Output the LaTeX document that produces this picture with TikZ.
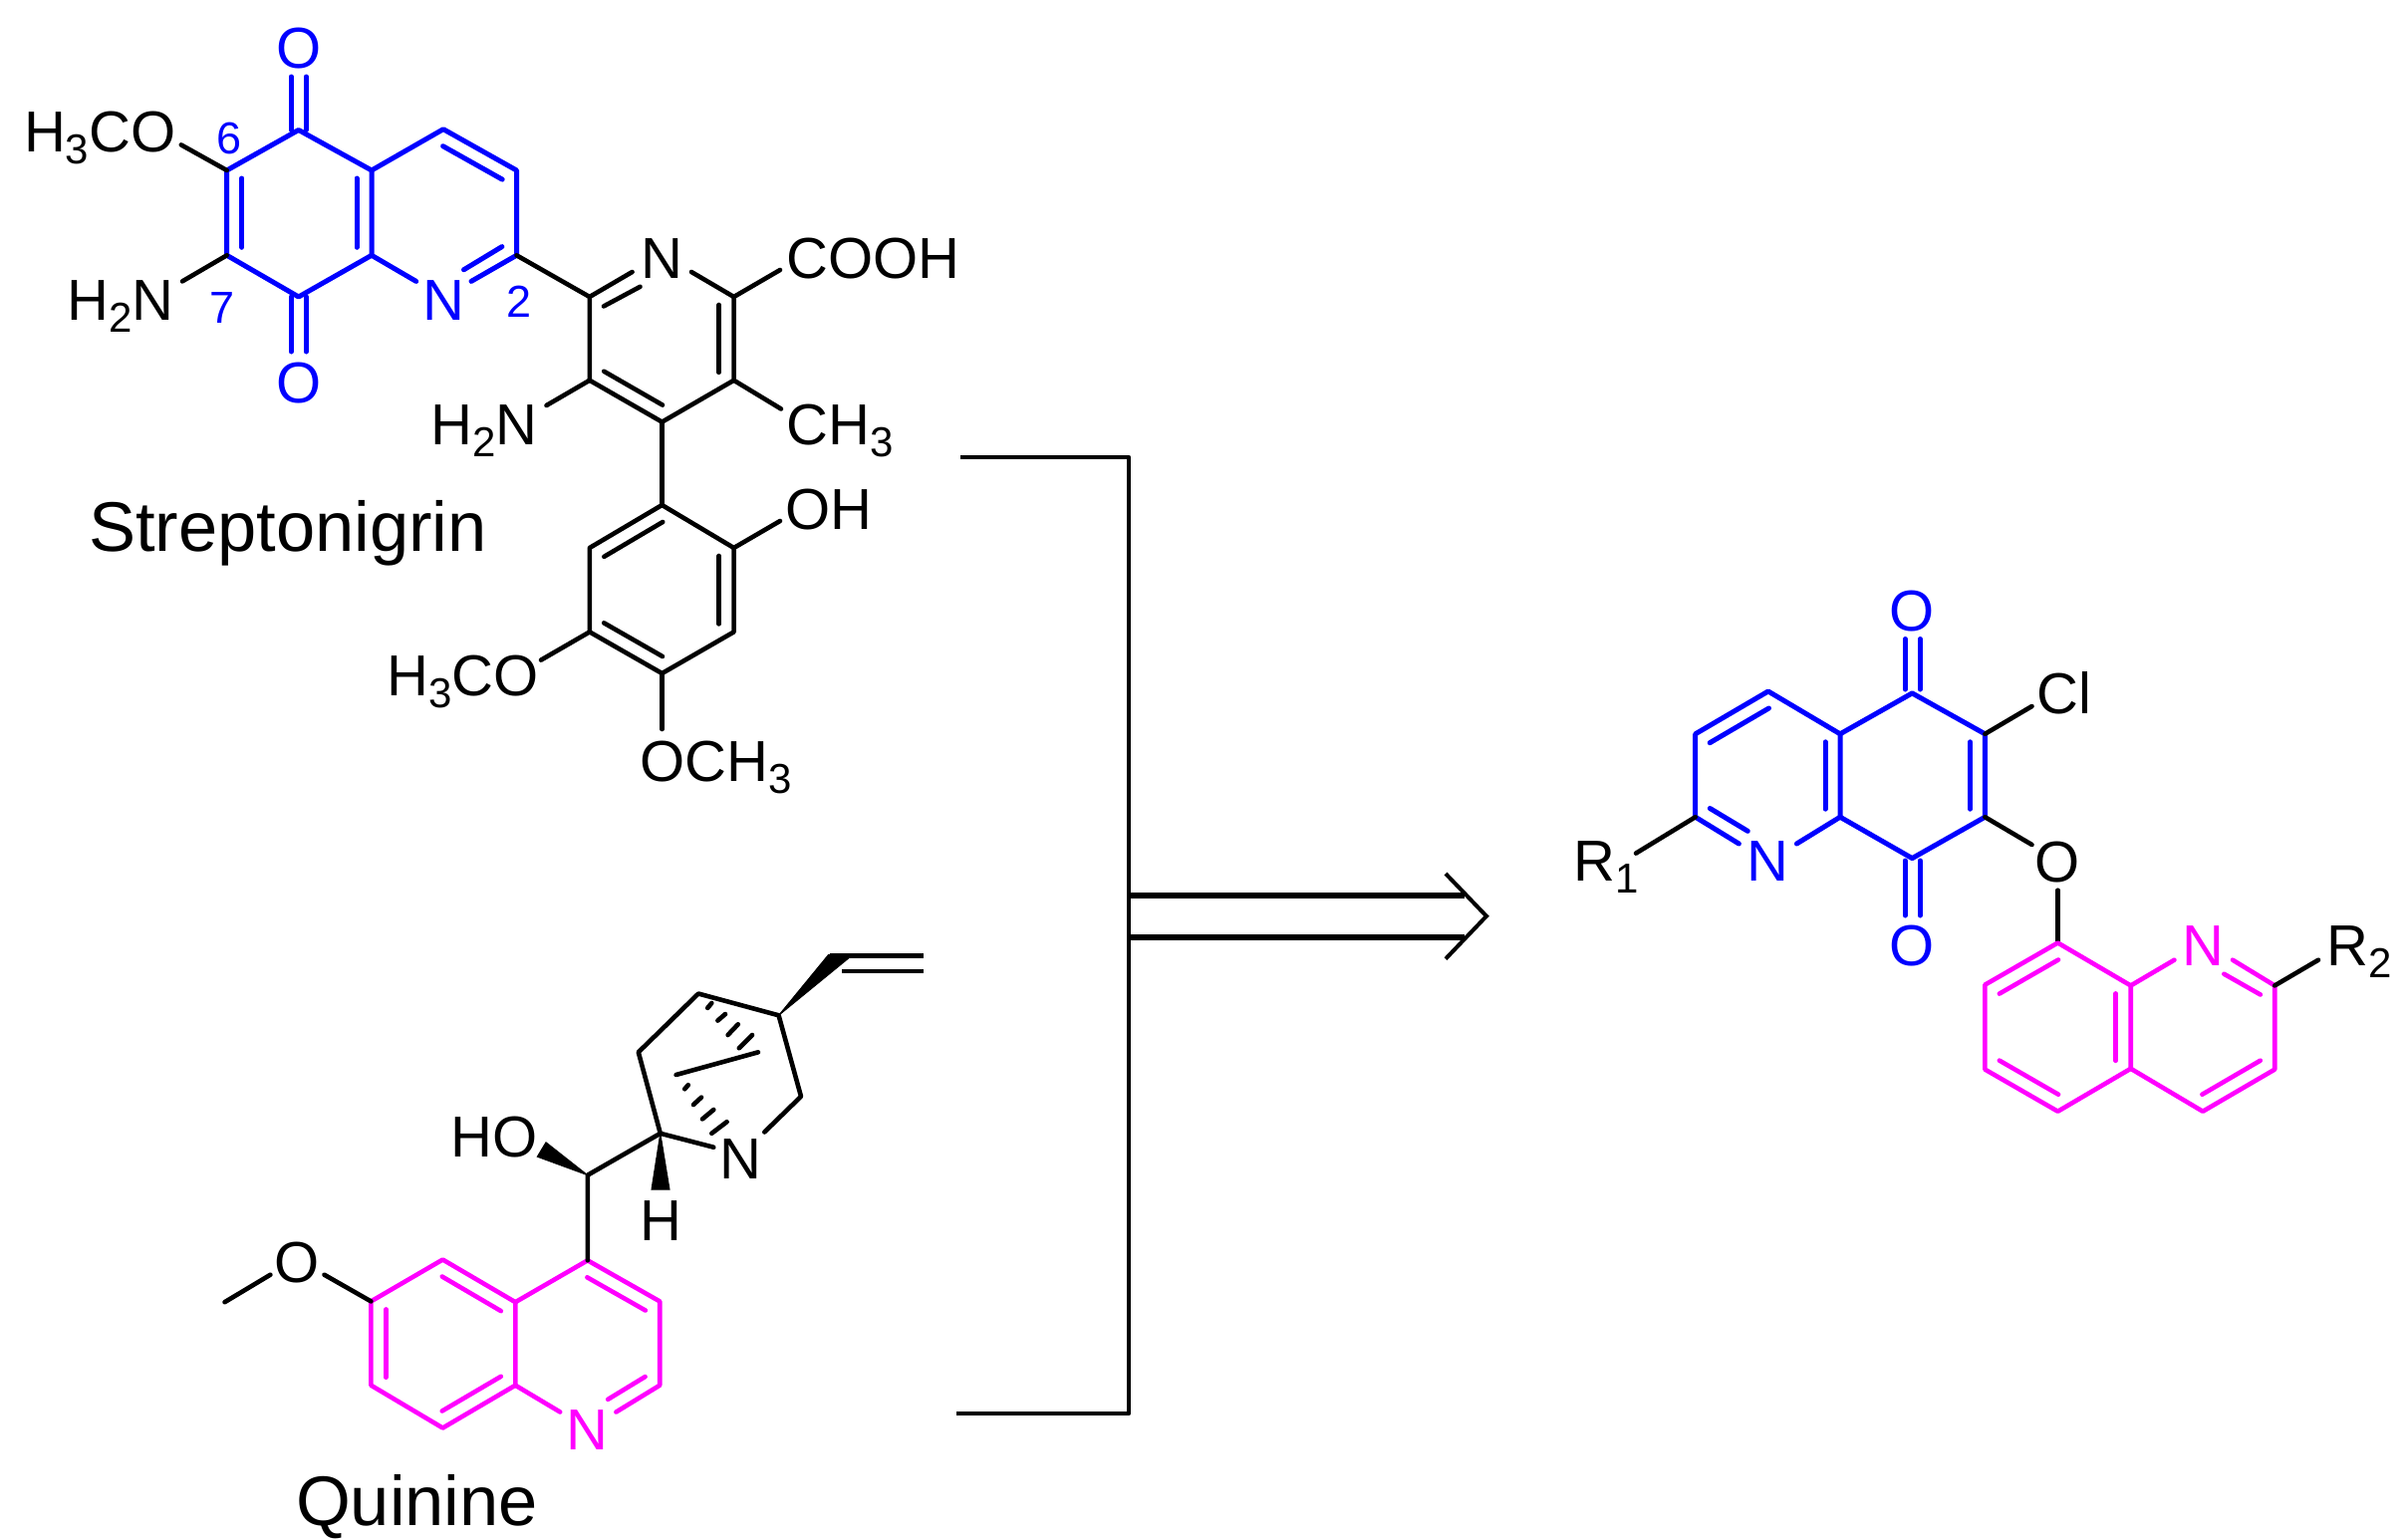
\documentclass[tikz,border=0pt]{standalone}
\usepackage{fontspec}
\setmainfont{Liberation Sans}
\usetikzlibrary{calc}
\definecolor{chemblue}{RGB}{0,0,255}
\definecolor{chemmag}{RGB}{255,0,255}
\newcommand{\sbs}[1]{\raisebox{-12pt}{\fontsize{42}{42}\selectfont #1}}
% inner line of a double bond: lies to the right of travel a->b
\newcommand{\dblin}[5][15pt]{\draw[#2] ($(#3)!#4pt!(#5)!#1!-90:(#5)$) -- ($(#5)!#4pt!(#3)!#1!90:(#3)$);}
\newcommand{\dblinb}[6][15pt]{\draw[#2] ($(#3)!#5pt!(#4)!#1!-90:(#4)$) -- ($(#4)!#6pt!(#3)!#1!90:(#3)$);}
\tikzset{
  x=1pt,y=-1pt,
  bond/.style={line width=4.6pt,line cap=round,line join=round,black},
  bluebond/.style={bond,chemblue,line width=5pt},
  magbond/.style={bond,chemmag,line width=4.6pt},
  heavy/.style={line width=6pt,line cap=butt,black},
  wedge/.style={fill=black,draw=black,line width=1pt,line join=miter},
  atom/.style={inner sep=0pt,outer sep=0pt,font=\fontsize{58}{62}\selectfont,anchor=base,text=black,yshift=-0.7pt},
  atomw/.style={atom,anchor=base west,xshift=-1.5pt},
  batom/.style={atom,text=chemblue},
  matom/.style={atom,text=chemmag},
  numlab/.style={inner sep=0pt,outer sep=0pt,font=\fontsize{45}{48}\selectfont,text=chemblue,anchor=center},
  title/.style={inner sep=0pt,outer sep=0pt,font=\fontsize{70.5}{74}\selectfont,anchor=base west,text=black},
}
\begin{document}
\begin{tikzpicture}
\useasboundingbox (0,0) rectangle (2417,1545);
\fill[white] (0,0) rectangle (2417,1545);

% ---------- Streptonigrin ----------
\coordinate (c5) at (299.7,130.5);
\coordinate (c6) at (227.7,171);
\coordinate (c7) at (227.7,256.3);
\coordinate (c8) at (299.7,298);
\coordinate (c8a) at (373,256.3);
\coordinate (c4a) at (373,171);
\coordinate (c4) at (445,129.7);
\coordinate (c3) at (518.5,171);
\coordinate (c2) at (518.5,256.3);
\coordinate (cN) at (445,300.7);
\coordinate (o5a) at (292.4,77);
\coordinate (o5b) at (292.4,130.5);
\coordinate (o5c) at (307.4,77);
\coordinate (o5d) at (307.4,130.5);
\coordinate (o8a) at (292.4,298);
\coordinate (o8b) at (292.4,353);
\coordinate (o8c) at (307.4,298);
\coordinate (o8d) at (307.4,353);
\coordinate (cNl) at (417.7,282.4);
\coordinate (cNr) at (473,282.4);

\node[batom] (O5) at (299.7,68) {O};
\node[batom] (O8) at (299.7,404) {O};
\node[batom] (Nq) at (445,320.7) {N};
\node[numlab] (l6) at (229.6,138.6) {6};
\node[numlab] (l7) at (223,308.6) {7};
\node[numlab] (l2) at (521,303) {2};

\draw[bluebond] (c8a) -- (c4a) -- (c5) -- (c6) -- (c7) -- (c8) -- (c8a) -- (cNl);
\draw[bluebond] (c4a) -- (c4) -- (c3) -- (c2) -- (cNr);
\draw[bluebond] (o5a) -- (o5b) (o5c) -- (o5d) (o8a) -- (o8b) (o8c) -- (o8d);
\dblin{bluebond}{c7}{8}{c6}
\dblin{bluebond}{c4a}{8}{c8a}
\dblin{bluebond}{c4}{8}{c3}
\dblinb{bluebond}{c2}{cN}{8}{33}

\coordinate (p2) at (591.8,298);
\coordinate (pN) at (664.5,259);
\coordinate (p6) at (736.6,298);
\coordinate (p5) at (736.6,381.8);
\coordinate (p4) at (664.5,423.6);
\coordinate (p3) at (591.8,381.8);
\coordinate (pNl) at (634.6,273);
\coordinate (pNr) at (694,273);
\coordinate (eCOOH) at (783,271);
\coordinate (eCH3) at (784,410.5);
\coordinate (eNH2) at (548.5,407);
\coordinate (eH3CO) at (181.8,145.4);
\coordinate (eH2N) at (183,282.4);

\node[atom] (Np) at (664.5,279) {N};
\node[atomw] (COOH) at (791,279) {COOH};
\node[atomw] (CH3) at (791,446) {CH\sbs{3}};
\node[atomw] (H2Nb) at (434,446) {H\sbs{2}N};
\node[atomw] (H3COa) at (25.5,152) {H\sbs{3}CO};
\node[atomw] (H2Na) at (69,320.7) {H\sbs{2}N};
\node[title] (strep) at (89,553.5) {Streptonigrin};

\draw[bond] (c2) -- (p2);
\draw[bond] (pNl) -- (p2) -- (p3) -- (p4) -- (p5) -- (p6) -- (pNr);
\dblinb{bond}{p2}{pN}{8}{33}
\dblin{bond}{p6}{8}{p5}
\dblin{bond}{p4}{8}{p3}
\draw[bond] (p6) -- (eCOOH);
\draw[bond] (p5) -- (eCH3);
\draw[bond] (p3) -- (eNH2);
\draw[bond] (c6) -- (eH3CO);
\draw[bond] (c7) -- (eH2N);

\coordinate (a1) at (664.5,507);
\coordinate (a2) at (736.6,550);
\coordinate (a3) at (736.6,634.4);
\coordinate (a4) at (664.5,676);
\coordinate (a5) at (591.8,634.4);
\coordinate (a6) at (591.8,550);
\coordinate (eOH) at (783,523);
\coordinate (eH3COb) at (543,662.6);
\coordinate (eOCH3) at (664.5,732);

\node[atomw] (OH) at (789.5,531) {OH};
\node[atomw] (H3COb) at (390,698) {H\sbs{3}CO};
\node[atomw] (OCH3) at (644,783.6) {OCH\sbs{3}};

\draw[bond] (p4) -- (a1);
\draw[bond] (a1) -- (a2) -- (a3) -- (a4) -- (a5) -- (a6) -- cycle;
\dblin{bond}{a2}{8}{a3}
\dblin{bond}{a4}{8}{a5}
\dblin{bond}{a6}{8}{a1}
\draw[bond] (a2) -- (eOH);
\draw[bond] (a5) -- (eH3COb);
\draw[bond] (a4) -- (eOCH3);

% ---------- Quinine ----------
\coordinate (q4) at (589.8,1265.3);
\coordinate (q4a) at (517.3,1307.2);
\coordinate (q8a) at (517.3,1390.7);
\coordinate (qN) at (589.8,1434.8);
\coordinate (q2) at (662.2,1390.7);
\coordinate (q3) at (662.2,1306.4);
\coordinate (q5) at (444.4,1264.5);
\coordinate (q6) at (372.4,1306.4);
\coordinate (q7) at (372.4,1390.7);
\coordinate (q8) at (444.4,1433.5);
\coordinate (qNl) at (562.2,1417.5);
\coordinate (qNr) at (618.4,1417.5);

\node[matom] (Nquin) at (589.8,1454.8) {N};
\node[atom] (Oq) at (298,1287) {O};
\node[atomw] (HO) at (454,1160.6) {HO};
\node[atom] (Hq) at (663.3,1245) {H};
\node[atom] (Nb) at (743.9,1182.4) {N};
\node[title] (quin) at (297,1531) {Quinine};

\draw[magbond] (q4a) -- (q4) -- (q3) -- (q2) -- (qNr);
\draw[magbond] (q4a) -- (q8a) -- (qNl);
\draw[magbond] (q4a) -- (q5) -- (q6) -- (q7) -- (q8) -- (q8a);
\dblin{magbond}{q4}{8}{q3}
\dblinb{magbond}{q2}{qN}{8}{33}
\dblin{magbond}{q5}{8}{q4a}
\dblin{magbond}{q8a}{8}{q8}
\dblin{magbond}{q7}{8}{q6}

\coordinate (oR) at (325.5,1279.7);
\coordinate (oL) at (271.4,1279.7);
\coordinate (me) at (225.5,1307.2);
\draw[bond] (q6) -- (oR);
\draw[bond] (oL) -- (me);

\coordinate (ca) at (589.8,1179.7);
\coordinate (c9) at (662.8,1137.8);
\coordinate (hoA) at (548,1146.8);
\coordinate (hoB) at (539.3,1161.2);
\coordinate (hA) at (654,1194);
\coordinate (hB) at (672,1194);
\coordinate (nL) at (716.3,1151.7);
\coordinate (nR) at (767.3,1136.5);
\coordinate (k1) at (804,1100.7);
\coordinate (k2) at (781.6,1019.3);
\coordinate (k3) at (701,997.5);
\coordinate (k4) at (640.8,1056.3);
\coordinate (br1) at (761,1056.3);
\coordinate (br2) at (678.6,1079);
\coordinate (vA) at (831.6,958.4);
\coordinate (vB) at (853,960.9);
\coordinate (v1a) at (832.7,959.6);
\coordinate (v1b) at (926.5,959.6);
\coordinate (v2a) at (845.4,974.9);
\coordinate (v2b) at (926.5,974.9);

\draw[bond] (q4) -- (ca) -- (c9);
\fill[wedge] (ca) -- (hoA) -- (hoB) -- cycle;
\fill[wedge] (c9) -- (hA) -- (hB) -- cycle;
\draw[bond] (c9) -- (nL);
\draw[bond] (nR) -- (k1) -- (k2) -- (k3) -- (k4) -- (c9);
\draw[bond] (br1) -- (br2);
\fill[wedge] (k2) -- (vA) -- (vB) -- cycle;
\draw[bond,line cap=butt] (v1a) -- (v1b);
\draw[bond,line cap=butt] (v2a) -- (v2b);

\coordinate (h1a) at (710.2,1011.9); \coordinate (h1b) at (714.3,1007);
\coordinate (h2a) at (720.4,1024.6); \coordinate (h2b) at (728,1018);
\coordinate (h3a) at (730.6,1039); \coordinate (h3b) at (740.8,1028.3);
\coordinate (h4a) at (741.8,1052.2); \coordinate (h4b) at (755,1039);
\coordinate (h5a) at (687.2,1093.3); \coordinate (h5b) at (690.8,1089.2);
\coordinate (h6a) at (696,1109); \coordinate (h6b) at (704,1101.6);
\coordinate (h7a) at (705,1123.4); \coordinate (h7b) at (716.3,1114);
\coordinate (h8a) at (714.3,1137.8); \coordinate (h8b) at (729.6,1126.2);
\draw[bond] (h1a) -- (h1b) (h2a) -- (h2b) (h3a) -- (h3b) (h4a) -- (h4b)
            (h5a) -- (h5b) (h6a) -- (h6b) (h7a) -- (h7b) (h8a) -- (h8b);

% ---------- Bracket and arrow ----------
\coordinate (bt) at (964,459);
\coordinate (bb) at (960,1419);
\coordinate (bvt) at (1133,459);
\coordinate (bvb) at (1133,1419);
\coordinate (as1) at (1133,898.7);
\coordinate (as2) at (1133,940.8);
\coordinate (ae1) at (1470,898.7);
\coordinate (ae2) at (1470,940.8);
\coordinate (at) at (1492,919.7);
\coordinate (ah1) at (1451,877);
\coordinate (ah2) at (1451,962.6);
\draw[bond,line cap=butt] (bt) -- (bvt) -- (bvb) -- (bb);
\draw[heavy] (as1) -- (ae1);
\draw[heavy] (as2) -- (ae2);
\draw[line width=4pt,black,line join=miter] (ah1) -- (at) -- (ah2);

% ---------- Product ----------
\coordinate (ra) at (1774.8,694);
\coordinate (rb) at (1701.7,736.8);
\coordinate (rc) at (1701.7,820.2);
\coordinate (rN) at (1774.8,864.2);
\coordinate (rd) at (1847,820.2);
\coordinate (re) at (1847,736.8);
\coordinate (rf) at (1919.3,695.9);
\coordinate (rg) at (1992.4,736.8);
\coordinate (rh) at (1992.4,820.2);
\coordinate (ri) at (1919.3,861.6);
\coordinate (rNl) at (1745.4,847);
\coordinate (rNr) at (1803.4,847);
\coordinate (ot1) at (1912.2,641.5);
\coordinate (ot2) at (1912.2,692);
\coordinate (ot3) at (1927.2,641.5);
\coordinate (ot4) at (1927.2,692);
\coordinate (ob1) at (1912.2,864);
\coordinate (ob2) at (1912.2,919);
\coordinate (ob3) at (1927.2,864);
\coordinate (ob4) at (1927.2,919);
\coordinate (eR1) at (1642,856.6);
\coordinate (eCl) at (2039.5,709);
\coordinate (eOa) at (2039.5,848);
\coordinate (eOb) at (2065.5,893.7);

\node[batom] (Ot) at (1919.3,632.4) {O};
\node[batom] (Ob) at (1919.3,969.2) {O};
\node[batom] (Nr) at (1774.8,884.2) {N};
\node[atomw] (R1) at (1581,884) {R\sbs{1}};
\node[atomw] (Cl) at (2046,716) {Cl};
\node[atom] (Oe) at (2065.5,885) {O};

\draw[bluebond] (rNl) -- (rc) -- (rb) -- (ra) -- (re) -- (rd) -- (rNr);
\draw[bluebond] (re) -- (rf) -- (rg) -- (rh) -- (ri) -- (rd);
\draw[bluebond] (ot1) -- (ot2) (ot3) -- (ot4) (ob1) -- (ob2) (ob3) -- (ob4);
\dblin{bluebond}{rb}{8}{ra}
\dblin{bluebond}{re}{8}{rd}
\dblin{bluebond}{rg}{8}{rh}
\dblinb{bluebond}{rN}{rc}{33}{8}
\draw[bond] (rc) -- (eR1);
\draw[bond] (rg) -- (eCl);
\draw[bond] (rh) -- (eOa);

\coordinate (mj) at (2065.5,946.5);
\coordinate (mk) at (2138.7,989.4);
\coordinate (ml) at (2138.7,1072.8);
\coordinate (mm) at (2065.5,1115.7);
\coordinate (mn) at (1992.4,1073.6);
\coordinate (mo) at (1992.4,988.6);
\coordinate (mp) at (2211,1115.7);
\coordinate (mq) at (2283.2,1073.6);
\coordinate (mr) at (2283.2,989.4);
\coordinate (mN) at (2211,948.4);
\coordinate (mNl) at (2182.4,963.7);
\coordinate (mNr) at (2241,963.7);
\coordinate (eR2) at (2327,963.7);

\node[matom] (Nm) at (2211,968.4) {N};
\node[atomw] (R2) at (2337,968.4) {R\sbs{2}};

\draw[bond] (eOb) -- (mj);
\draw[magbond] (mj) -- (mk) -- (ml) -- (mm) -- (mn) -- (mo) -- cycle;
\draw[magbond] (mk) -- (mNl);
\draw[magbond] (mNr) -- (mr) -- (mq) -- (mp) -- (ml);
\dblin{magbond}{mk}{8}{ml}
\dblin{magbond}{mm}{8}{mn}
\dblin{magbond}{mo}{8}{mj}
\dblin{magbond}{mq}{8}{mp}
\dblinb{magbond}{mN}{mr}{33}{8}
\draw[bond] (mr) -- (eR2);
\end{tikzpicture}
\end{document}
